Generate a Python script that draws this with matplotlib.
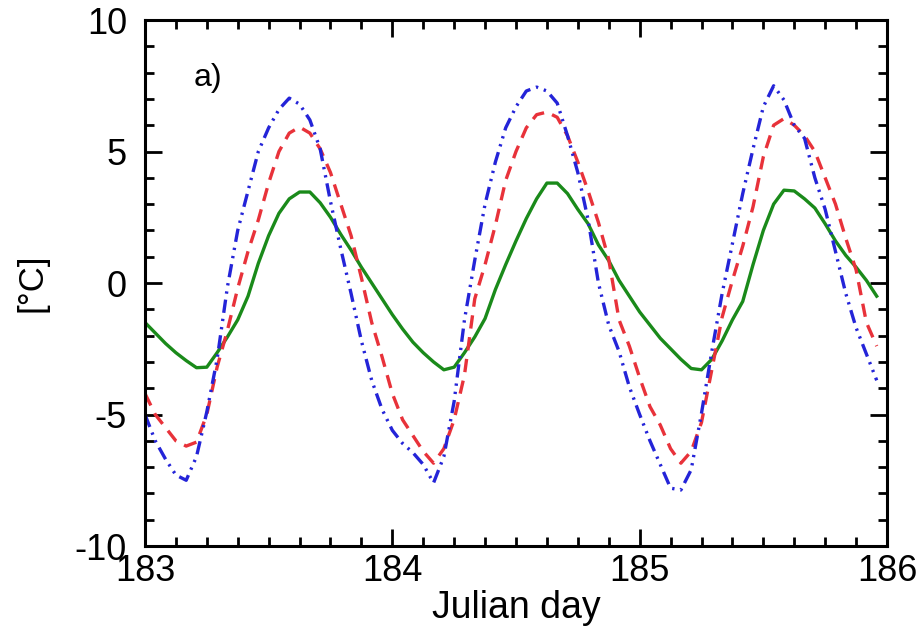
import numpy as np
import matplotlib
matplotlib.use("Agg")
import matplotlib.pyplot as plt
from matplotlib.ticker import MultipleLocator

plt.rcParams['font.family'] = ['Liberation Sans', 'DejaVu Sans']
plt.rcParams['axes.unicode_minus'] = False

# hourly samples starting at Julian day 183.0
start_day = 183.0
hours = np.arange(72)
julian_day = start_day + hours / 24.0

blue_series = [-5.0, -6.0, -6.7, -7.3, -7.5, -6.6, -4.9, -2.9, -0.15, 2.0, 3.5, 5.0,
               5.9, 6.6, 7.03, 6.8, 6.2, 5.1, 3.1, 1.3, -0.4, -2.2, -3.7, -4.8,
               -5.6, -6.1, -6.45, -6.9, -7.6, -6.6, -4.5, -1.4, 0.87, 3.0, 4.6, 5.9,
               6.7, 7.3, 7.45, 7.3, 6.84, 5.6, 4.2, 2.4, 0.0, -1.6, -2.6, -3.95,
               -5.0, -6.0, -6.9, -7.8, -7.87, -7.1, -4.95, -2.6, -0.4, 1.5, 3.4, 5.1,
               6.7, 7.5, 6.96, 6.0, 5.5, 4.0, 2.8, 1.2, -0.4, -1.7, -2.7, -3.7]

red_series = [-4.2, -5.0, -5.5, -6.0, -6.2, -6.05, -5.0, -3.2, -1.8, -0.2, 1.2, 2.4,
              3.8, 5.0, 5.7, 5.93, 5.7, 5.1, 4.2, 3.0, 1.8, 0.2, -1.5, -2.8,
              -4.2, -5.2, -5.8, -6.4, -6.85, -6.3, -5.2, -3.5, -0.6, 0.7, 2.2, 3.9,
              5.0, 5.9, 6.4, 6.5, 6.3, 5.6, 4.6, 3.5, 2.3, 0.9, -1.4, -2.4,
              -3.6, -4.7, -5.4, -6.3, -6.85, -6.4, -5.3, -3.3, -1.3, 0.1, 1.4, 2.9,
              4.8, 6.0, 6.25, 6.0, 5.6, 5.0, 4.0, 3.0, 1.7, 0.5, -1.5, -2.4]

green_series = [-1.5, -1.9, -2.3, -2.65, -2.95, -3.22, -3.2, -2.65, -2.05, -1.4, -0.5, 0.75,
                1.8, 2.65, 3.2, 3.46, 3.46, 3.05, 2.5, 1.85, 1.25, 0.6, 0.0, -0.6,
                -1.2, -1.75, -2.25, -2.65, -3.0, -3.3, -3.2, -2.65, -2.05, -1.35, -0.25, 0.7,
                1.6, 2.45, 3.2, 3.8, 3.8, 3.4, 2.8, 2.25, 1.45, 0.85, 0.1, -0.5,
                -1.1, -1.6, -2.1, -2.5, -2.9, -3.25, -3.3, -2.9, -2.2, -1.4, -0.7, 0.7,
                2.0, 3.0, 3.53, 3.5, 3.2, 2.85, 2.25, 1.6, 1.05, 0.6, 0.1, -0.5]

x_ticks = [183, 184, 185, 186]
y_ticks = [-10, -5, 0, 5, 10]

fig = plt.figure(figsize=(9.21, 6.33), dpi=100)
ax = fig.add_axes([0.1574, 0.1374, 0.8057, 0.831])

ax.plot(julian_day, green_series, color='#1a8a1a', lw=2.4, ls='-')
ax.plot(julian_day, red_series, color='#e8323a', lw=2.4, dashes=(4.0, 2.6))
ax.plot(julian_day, blue_series, color='#2424d8', lw=2.4,
        dashes=(4.0, 1.8, 0.7, 1.8, 0.7, 1.8))

ax.set_xlim(183, 186)
ax.set_ylim(-10, 10)
ax.set_xticks(x_ticks)
ax.set_xticklabels([str(t) for t in x_ticks])
ax.set_yticks(y_ticks)
ax.set_yticklabels([str(t) for t in y_ticks])
ax.xaxis.set_minor_locator(MultipleLocator(0.125))
ax.yaxis.set_minor_locator(MultipleLocator(1))

ax.tick_params(which='both', direction='in', top=True, right=True, width=2.0,
               labelsize=26, color='black')
ax.tick_params(which='major', length=12)
ax.tick_params(which='minor', length=6.5)
ax.tick_params(axis='y', which='major', pad=13)
ax.tick_params(axis='x', which='major', pad=6)
for s in ax.spines.values():
    s.set_linewidth(2.2)

ax.set_xlabel('Julian day', fontsize=27, va='center')
ax.xaxis.set_label_coords(0.5, -0.117)
ax.set_ylabel('[°C]', fontsize=25, va='center')
ax.yaxis.set_label_coords(-0.152, 0.5)

ax.text(183.195, 7.8, 'a)', fontsize=23, ha='left', va='center')

fig.savefig('out.png', dpi=100)
